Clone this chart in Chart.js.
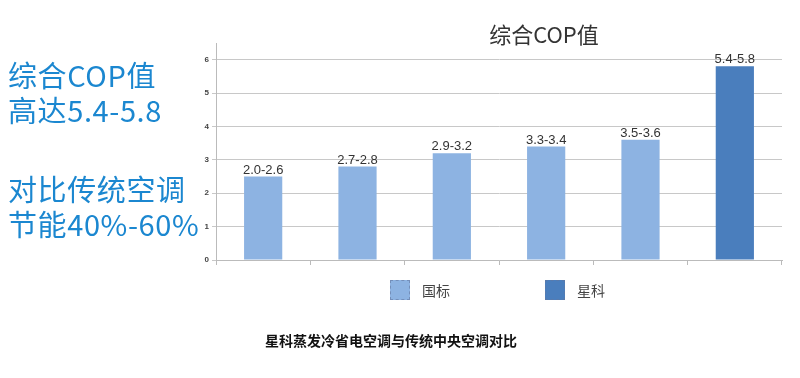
<!DOCTYPE html>
<html>
<head>
<meta charset="utf-8">
<script src="https://cdn.jsdelivr.net/npm/chart.js@4"></script>
<style>
  html, body { margin: 0; padding: 0; background: #fff; }
  #wrap { position: relative; width: 800px; height: 378px; overflow: hidden; font-family: "Noto Sans CJK SC", "Noto Sans", sans-serif; }
  #c { position: absolute; left: 0; top: 0; }
  .side { position: absolute; left: 8px; color: #1b87d0; font-size: 29px; line-height: 35px; letter-spacing: 0.6px; white-space: nowrap; }
  #title { position: absolute; left: 444px; width: 200px; top: 17px; text-align: center; font-size: 22px; color: #333; }
  #legend { position: absolute; top: 280px; left: 0; width: 800px; height: 24px; }
  .lg { position: absolute; display: flex; align-items: center; font-size: 14px; color: #444; }
  .lg i { display: inline-block; width: 20px; height: 20px; margin-right: 12px; box-sizing: border-box; border: 1px dashed rgba(100,120,160,0.6); }
  #caption { position: absolute; top: 330px; left: 0; width: 782px; text-align: center; font-size: 14px; font-weight: bold; color: #111; }
</style>
</head>
<body>
<div id="wrap">
  <canvas id="c" width="800" height="378"></canvas>
  <div class="side" style="top:57px">综合COP值<br>高达5.4-5.8</div>
  <div class="side" style="top:171px">对比传统空调<br>节能40%-60%</div>
  <div id="title">综合COP值</div>
  <div id="legend"></div>
  <div id="caption">星科蒸发冷省电空调与传统中央空调对比</div>
</div>
<script>
// 数据
const categorias = ['1', '2', '3', '4', '5', '6'];
const guobiao = [2.5, 2.8, 3.2, 3.4, 3.6, null];
const xingke = [null, null, null, null, null, 5.8];
const rotulos = ['2.0-2.6', '2.7-2.8', '2.9-3.2', '3.3-3.4', '3.5-3.6', '5.4-5.8'];
const nomesSeries = ['国标', '星科'];
const cores = ['#8db3e2', '#4a7ebd'];

// rótulos acima das barras
const rotuloPlugin = {
    id: 'rotulos',
    afterDatasetsDraw(chart) {
        const ctx = chart.ctx;
        ctx.save();
        ctx.font = '13px "Liberation Sans", Arial, sans-serif';
        ctx.fillStyle = '#333';
        ctx.textAlign = 'center';
        ctx.textBaseline = 'bottom';
        chart.data.datasets.forEach((ds, di) => {
            chart.getDatasetMeta(di).data.forEach((bar, i) => {
                if (ds.data[i] == null) return;
                ctx.fillText(rotulos[i], bar.x, bar.y);
            });
        });
        ctx.restore();
    }
};

const chart = new Chart(document.getElementById('c'), {
    type: 'bar',
    data: {
        labels: categorias,
        datasets: [
            { label: nomesSeries[0], data: guobiao, backgroundColor: cores[0] },
            { label: nomesSeries[1], data: xingke, backgroundColor: cores[1] }
        ]
    },
    options: {
        responsive: false,
        animation: false,
        layout: { padding: { left: 202, right: 18, top: 43, bottom: 110 } },
        plugins: { legend: { display: false }, tooltip: { enabled: false } },
        datasets: { bar: { barPercentage: 0.405, categoryPercentage: 1 } },
        scales: {
            x: {
                stacked: true,
                afterFit: s => { s.height = 8; },
                ticks: { display: false },
                grid: { drawOnChartArea: false, tickLength: 5, color: '#bbb', offset: true },
                border: { color: '#bbb' }
            },
            y: {
                stacked: true,
                min: 0,
                max: 6.5,
                afterFit: s => { s.width = 14; },
                afterBuildTicks: s => { s.ticks = s.ticks.filter(t => Number.isInteger(t.value)); },
                ticks: { stepSize: 1, padding: 3, font: { size: 8, weight: 'bold' }, color: '#444' },
                grid: { color: '#c8c8c8', tickLength: 4 },
                border: { color: '#bbb' }
            }
        }
    },
    plugins: [rotuloPlugin]
});

// legenda em HTML
const legend = document.getElementById('legend');
const posLegenda = [390, 545];
chart.data.datasets.forEach((ds, i) => {
    const item = document.createElement('div');
    item.className = 'lg';
    item.style.left = posLegenda[i] + 'px';
    item.innerHTML = `<i style="background:${ds.backgroundColor}"></i>${ds.label}`;
    legend.appendChild(item);
});
</script>
</body>
</html>
